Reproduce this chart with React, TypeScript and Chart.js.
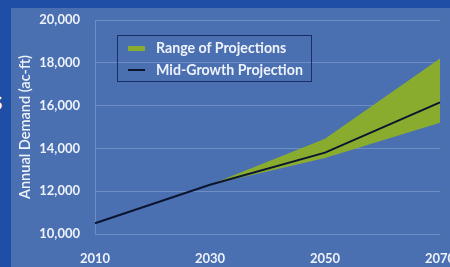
import React, { useEffect, useRef } from "react";
import { Chart, registerables } from "chart.js";

Chart.register(...registerables);

const years = ["2010", "2030", "2050", "2070"];
const midGrowth = [10500, 12300, 13800, 16150];
const rangeLow = [null, 12300, 13550, 15200];
const rangeHigh = [null, 12300, 14450, 18200];
const yMin = 10000;
const yMax = 20000;
const yStep = 2000;
const yTitle = "Annual Demand (ac-ft)";
const legendRange = "Range of Projections";
const legendMid = "Mid-Growth Projection";

const TXT = "#eef2fa";
const GREEN = "#8aac2e";
const LINE = "#0b1530";

export default function App() {
  const ref = useRef<HTMLCanvasElement | null>(null);

  useEffect(() => {
    document.body.style.margin = "0";
    const canvas = ref.current;
    if (!canvas) return;
    const chart = new Chart(canvas, {
      type: "line",
      data: {
        labels: years,
        datasets: [
          {
            label: "low",
            data: rangeLow as any,
            borderWidth: 0,
            pointRadius: 0,
            fill: false,
            borderColor: "rgba(0,0,0,0)",
            order: 2,
          },
          {
            label: legendRange,
            data: rangeHigh as any,
            borderWidth: 0,
            pointRadius: 0,
            borderColor: "rgba(0,0,0,0)",
            backgroundColor: GREEN,
            fill: "-1",
            order: 1,
          },
          {
            label: legendMid,
            data: midGrowth,
            borderColor: LINE,
            borderWidth: 2,
            pointRadius: 0,
            fill: false,
            order: 0,
          },
        ],
      },
      options: {
        responsive: false,
        animation: false,
        layout: { padding: { top: 12, right: 31, bottom: 1, left: 0 } },
        plugins: { legend: { display: false }, tooltip: { enabled: false } },
        scales: {
          x: {
            grid: { display: false, drawTicks: false },
            border: { display: false },
            ticks: {
              color: TXT,
              padding: 17,
              font: { family: "Lato", size: 13, weight: "bold" },
              maxRotation: 0,
            },
            afterFit: (s: any) => {
              s.height = 32;
              s.paddingLeft = 0;
              s.paddingRight = 0;
            },
          },
          y: {
            min: yMin,
            max: yMax,
            grid: { color: "rgba(205,218,240,0.28)", lineWidth: 1, drawTicks: false },
            border: { display: true, color: "rgba(205,218,240,0.28)", width: 1 },
            ticks: {
              stepSize: yStep,
              color: TXT,
              padding: 15,
              font: { family: "Lato", size: 13, weight: "bold" },
              callback: (v: any) => Number(v).toLocaleString("en-US"),
            },
            title: {
              display: true,
              text: yTitle,
              color: TXT,
              font: { family: "Lato", size: 14.5, weight: "600" },
              padding: { top: 6, bottom: 4 },
            },
            afterFit: (s: any) => {
              s.width = 84;
              s.paddingTop = 0;
              s.paddingBottom = 0;
            },
          },
        },
      },
    });
    return () => chart.destroy();
  }, []);

  const legendText: React.CSSProperties = {
    position: "absolute",
    left: 38,
    color: TXT,
    fontSize: 14.2,
    fontWeight: "bold",
    lineHeight: "18px",
    whiteSpace: "nowrap",
  };

  return (
    <div
      style={{
        position: "relative",
        width: 450,
        height: 267,
        overflow: "hidden",
        background: "#1f4ea7",
        fontFamily: "Lato",
      }}
    >
      <span
        style={{
          position: "absolute",
          left: -9,
          top: 84,
          color: "#ffffff",
          fontSize: 26,
          fontWeight: "bold",
        }}
      >
        s
      </span>
      <div
        style={{
          position: "absolute",
          left: 11,
          top: 8,
          width: 460,
          height: 259,
          background: "#4a70b2",
        }}
      >
        <canvas ref={ref} width={460} height={259} style={{ display: "block" }} />
      </div>
      <div
        style={{
          position: "absolute",
          left: 117,
          top: 35,
          width: 195,
          height: 47,
          boxSizing: "border-box",
          border: "1.5px solid #1b2d66",
        }}
      >
        <div style={{ position: "absolute", left: 10, top: 9.5, width: 17, height: 5, background: GREEN }} />
        <div style={{ ...legendText, top: 3 }}>{legendRange}</div>
        <div style={{ position: "absolute", left: 10, top: 33, width: 17, height: 2, background: LINE }} />
        <div style={{ ...legendText, top: 25 }}>{legendMid}</div>
      </div>
    </div>
  );
}
